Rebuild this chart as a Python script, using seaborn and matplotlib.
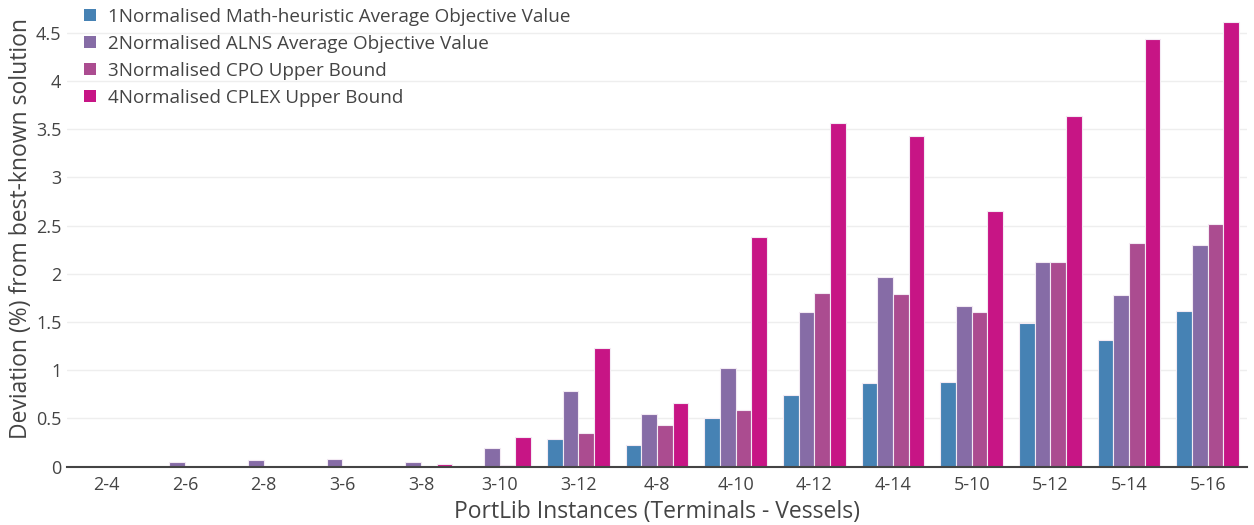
import matplotlib
matplotlib.use("Agg")
import matplotlib.pyplot as plt
import seaborn as sns
import pandas as pd

categories = ['2-4', '2-6', '2-8', '3-6', '3-8', '3-10', '3-12', '4-8', '4-10',
              '4-12', '4-14', '5-10', '5-12', '5-14', '5-16']
series_names = ['1Normalised Math-heuristic Average Objective Value',
                '2Normalised ALNS Average Objective Value',
                '3Normalised CPO Upper Bound',
                '4Normalised CPLEX Upper Bound']
math_heur = [0, 0, 0, 0, 0, 0, 0.285, 0.22, 0.51, 0.745, 0.87, 0.875, 1.49, 1.31, 1.61]
alns = [0, 0.05, 0.065, 0.075, 0.045, 0.19, 0.786, 0.545, 1.02, 1.60, 1.97, 1.67, 2.12, 1.78, 2.30]
cpo = [0, 0, 0, 0, 0, 0.015, 0.35, 0.43, 0.59, 1.80, 1.79, 1.60, 2.12, 2.32, 2.52]
cplex = [0, 0, 0, 0, 0.025, 0.31, 1.235, 0.66, 2.38, 3.56, 3.43, 2.65, 3.64, 4.44, 4.61]
colors = ['#4682B4', '#866CA6', '#AB4C90', '#C71585']
y_ticks = [0, 0.5, 1, 1.5, 2, 2.5, 3, 3.5, 4, 4.5]

rows = []
for name, vals in zip(series_names, [math_heur, alns, cpo, cplex]):
    for c, v in zip(categories, vals):
        rows.append({'Instance': c, 'Series': name, 'Value': v})
df = pd.DataFrame(rows)

sns.set_theme(style='white')
plt.rcParams['font.family'] = ['Open Sans', 'DejaVu Sans']
text_color = '#444444'

fig = plt.figure(figsize=(12.54, 5.25), dpi=100)
ax = fig.add_axes([67 / 1254, (525 - 466.7) / 525, 1180 / 1254, 466.7 / 525])

sns.barplot(data=df, x='Instance', y='Value', hue='Series', order=categories,
            hue_order=series_names, palette=colors, width=0.8, saturation=1,
            edgecolor='#f3eaf3', linewidth=0.8, ax=ax, legend=True)

ax.set_xlim(-0.5, len(categories) - 0.5)
ax.set_ylim(0, 4.84)
ax.set_yticks(y_ticks)
ax.set_yticklabels([f'{t:g}' for t in y_ticks])
ax.yaxis.grid(True, color='#eeeeee', linewidth=1)
ax.set_axisbelow(True)
for s in ['top', 'right', 'left']:
    ax.spines[s].set_visible(False)
ax.spines['bottom'].set_color(text_color)
ax.spines['bottom'].set_linewidth(1.5)
ax.tick_params(axis='both', length=0, labelsize=13, colors=text_color)
ax.tick_params(axis='x', pad=7)
ax.tick_params(axis='y', pad=4)
ax.set_xlabel('PortLib Instances (Terminals - Vessels)', fontsize=16.5, color=text_color, labelpad=4)
ax.set_ylabel('Deviation (%) from best-known solution', fontsize=16.5, color=text_color)
ax.yaxis.set_label_coords(-0.029, 0.51)

leg = ax.legend(loc='upper left', bbox_to_anchor=(0.008, 1.0), frameon=False,
                fontsize=13.6, handlelength=0.66, handleheight=0.66, handletextpad=0.6,
                labelspacing=0.48, borderaxespad=0)
for t in leg.get_texts():
    t.set_color(text_color)
for h in leg.legend_handles:
    h.set_edgecolor('none')

fig.savefig('out.png', dpi=100)
